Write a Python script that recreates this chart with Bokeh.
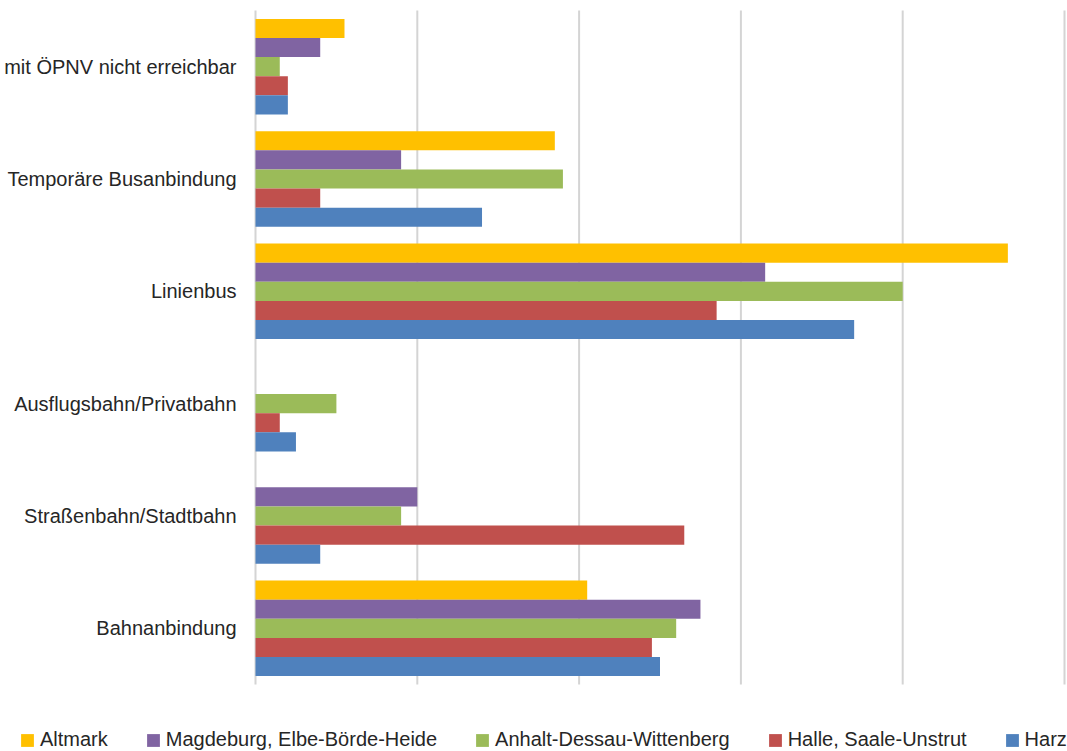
from bokeh.plotting import figure
from bokeh.models import Range1d, Legend, LegendItem
from bokeh.core.properties import value
from bokeh.transform import dodge
from bokeh.embed import file_html
from bokeh.resources import INLINE

categories = ["mit ÖPNV nicht erreichbar", "Temporäre Busanbindung", "Linienbus",
              "Ausflugsbahn/Privatbahn", "Straßenbahn/Stadtbahn", "Bahnanbindung"]
series_names = ["Altmark", "Magdeburg, Elbe-Börde-Heide", "Anhalt-Dessau-Wittenberg",
                "Halle, Saale-Unstrut", "Harz"]
altmark = [11, 37, 93, 0, 0, 41]
magdeburg = [8, 18, 63, 0, 20, 55]
anhalt = [3, 38, 80, 10, 18, 52]
halle = [4, 8, 57, 3, 53, 49]
harz = [4, 28, 74, 5, 8, 50]
x_ticks = [0, 20, 40, 60, 80, 100]

series_values = [altmark, magdeburg, anhalt, halle, harz]
colors = ["#FFC000", "#8064A2", "#9BBB59", "#C0504D", "#4F81BD"]
offsets = [0.34, 0.17, 0.0, -0.17, -0.34]

W, H = 1067, 751
n = len(categories)
ypos = [n - i for i in range(n)]          # top category highest
x_max = max(x_ticks)
# pixel layout of the plotting area inside the canvas
left_px, right_px, top_px, bottom_px = 255, 1064, 10, 684
x_scale = (right_px - left_px) / x_max
y_scale = (bottom_px - top_px) / n
x_range = Range1d(-left_px / x_scale, (W - left_px) / x_scale)
y_range = Range1d(0.5 - (H - bottom_px) / y_scale, n + 0.5 + top_px / y_scale)

p = figure(width=W, height=H, output_backend="svg", toolbar_location=None,
           x_range=x_range, y_range=y_range, min_border=0)
p.outline_line_color = None
p.background_fill_color = "white"
p.axis.visible = False
p.grid.visible = False

grid_color = "#d4d4d4"
# vertical gridlines (and the category axis line at x=0)
p.segment(x0=x_ticks, x1=x_ticks, y0=0.5, y1=n + 0.5, line_color=grid_color,
          line_width=2)

items = []
for name, vals, col, off in zip(series_names, series_values, colors, offsets):
    src = dict(y=ypos, val=vals)
    r = p.hbar(y=dodge("y", off), left=0, right="val", height=0.17,
               source=src, fill_color=col, line_color=None)
    items.append(LegendItem(label=name, renderers=[r]))

# category labels
p.text(x=[0] * n, y=ypos, text=categories, x_offset=-19, text_align="right",
       text_baseline="middle", text_font=value("Liberation Sans"),
       text_font_size="20px", text_color="#262626")

legend = Legend(items=items, orientation="horizontal", location=(19, 0),
                glyph_width=16, glyph_height=16, label_standoff=5, spacing=37,
                padding=0, margin=0, border_line_color=None,
                background_fill_alpha=0,
                label_text_font="Liberation Sans", label_text_font_size="20px",
                label_text_color="#262626")
p.add_layout(legend)

open("out.html", "w").write(file_html(p, INLINE))
